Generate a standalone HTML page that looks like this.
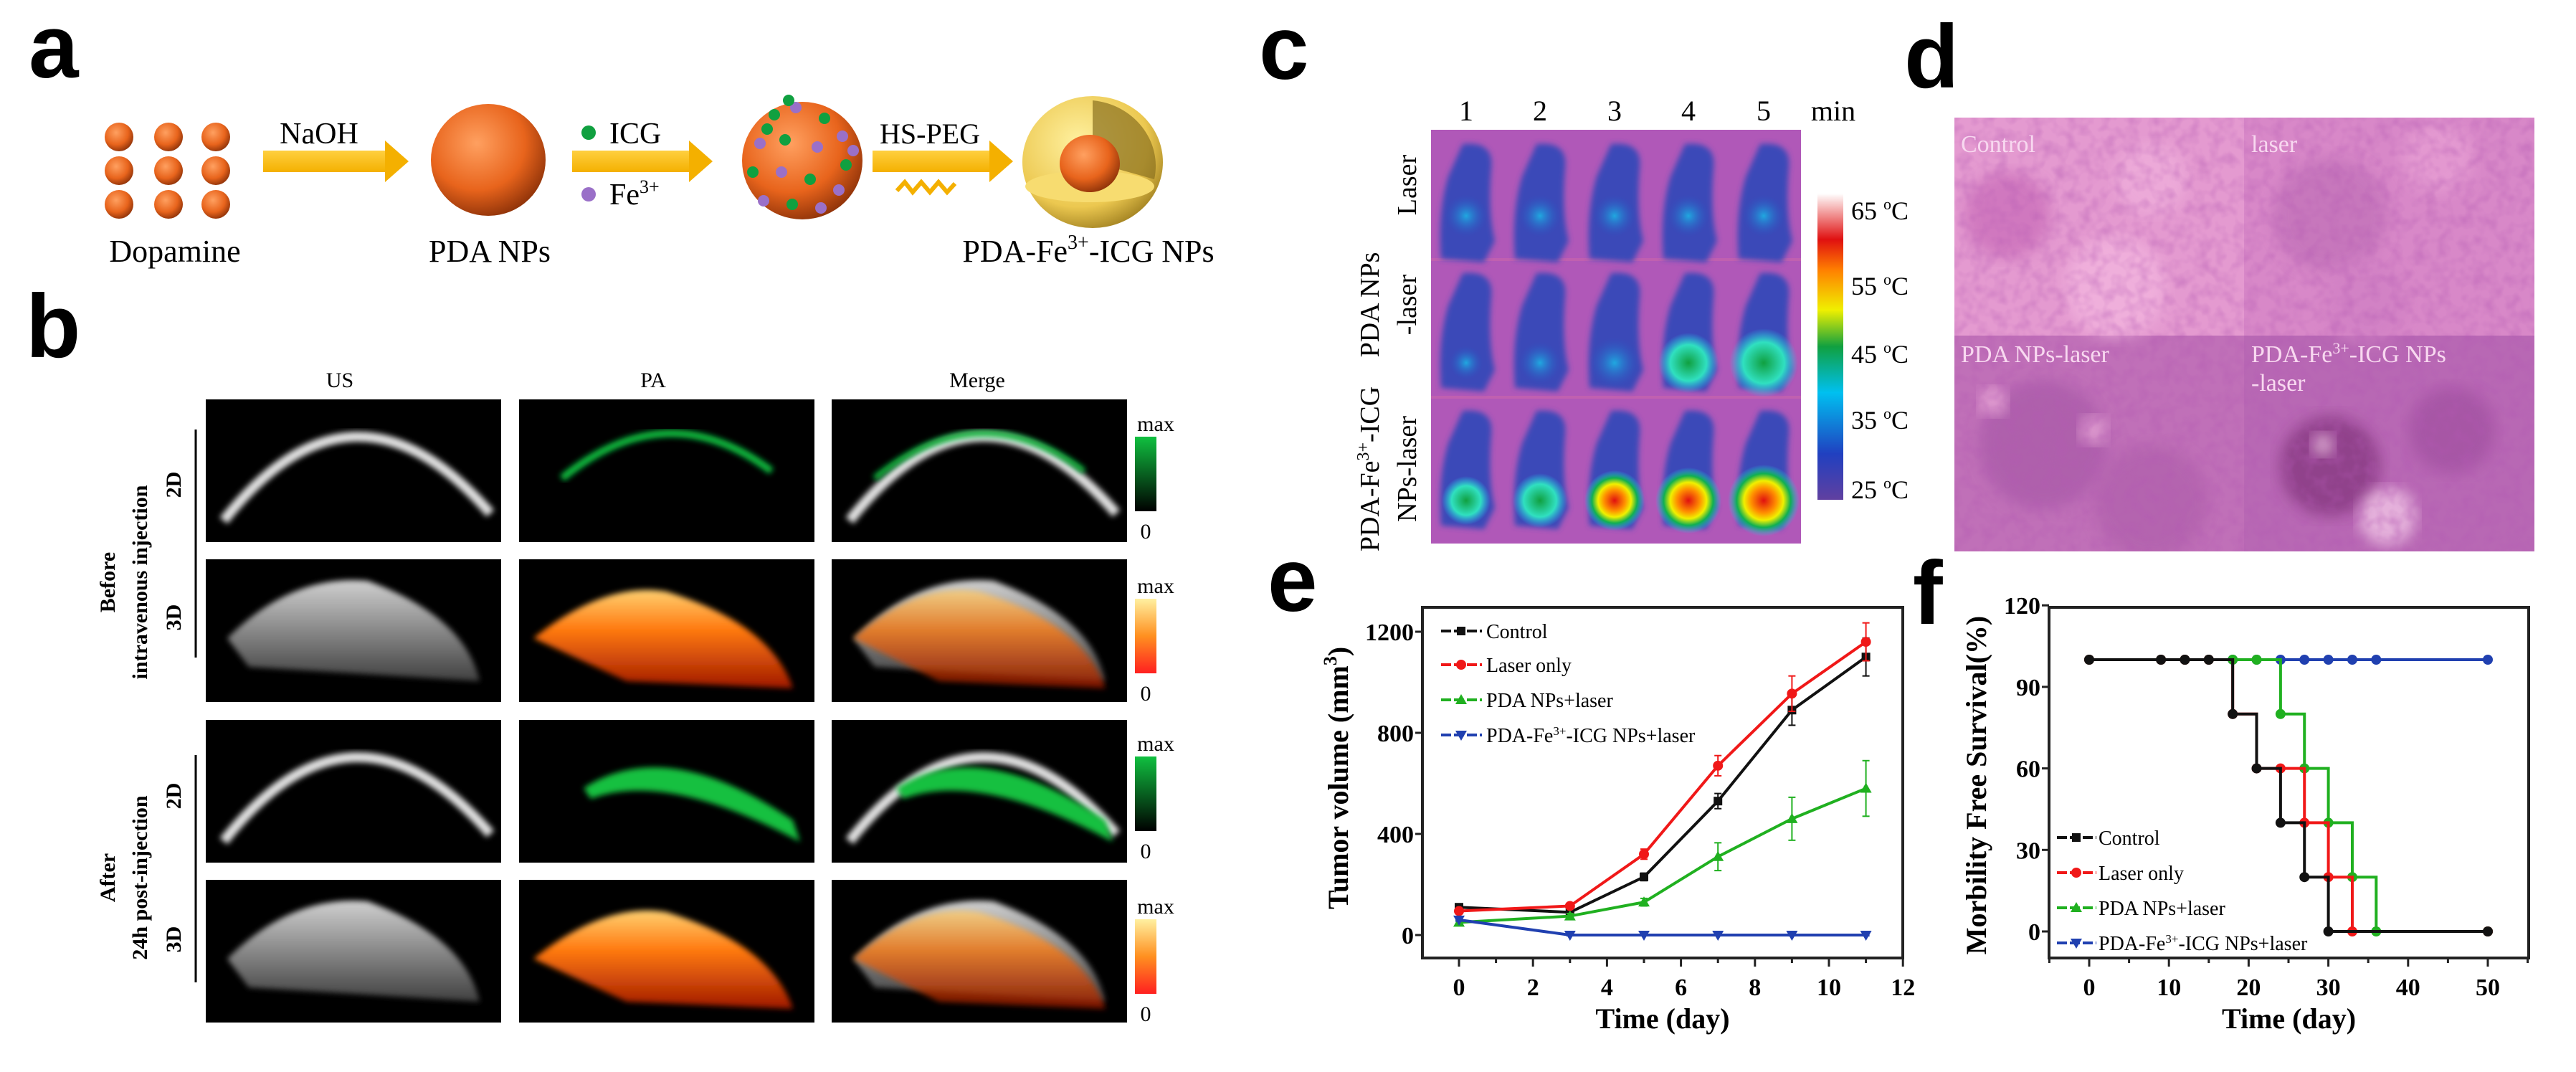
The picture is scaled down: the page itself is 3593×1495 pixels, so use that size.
<!DOCTYPE html>
<html><head><meta charset="utf-8"><style>
html,body{margin:0;padding:0;background:#fff;}
svg{display:block;}
.ser{font-family:"Liberation Serif",serif;}
.lab{font-family:"Liberation Sans",sans-serif;font-weight:bold;font-size:125px;}
</style></head><body>
<svg id="fig" width="3593" height="1495" viewBox="0 0 3593 1495" xmlns="http://www.w3.org/2000/svg">
<defs>
<radialGradient id="orb" cx="0.4" cy="0.35" r="0.7"><stop offset="0" stop-color="#ffa060"/><stop offset="0.6" stop-color="#e8641c"/><stop offset="1" stop-color="#8a3008"/></radialGradient>
<radialGradient id="shell" cx="0.4" cy="0.35" r="0.7"><stop offset="0" stop-color="#fff1a0"/><stop offset="0.7" stop-color="#ecc850"/><stop offset="1" stop-color="#a08020"/></radialGradient>
<linearGradient id="arrowg" x1="0" y1="0" x2="0" y2="1"><stop offset="0" stop-color="#ffd040"/><stop offset="1" stop-color="#f4b000"/></linearGradient>
<linearGradient id="cbar" x1="0" y1="1" x2="0" y2="0"><stop offset="0" stop-color="#6040a0"/><stop offset="0.15" stop-color="#2040c0"/><stop offset="0.35" stop-color="#00c0f0"/><stop offset="0.5" stop-color="#10a040"/><stop offset="0.62" stop-color="#f0f000"/><stop offset="0.75" stop-color="#ff8000"/><stop offset="0.85" stop-color="#e01010"/><stop offset="1" stop-color="#ffffff"/></linearGradient>
<linearGradient id="gbar" x1="0" y1="1" x2="0" y2="0"><stop offset="0" stop-color="#000"/><stop offset="1" stop-color="#10c040"/></linearGradient>
<linearGradient id="obar" x1="0" y1="1" x2="0" y2="0"><stop offset="0" stop-color="#ff2020"/><stop offset="0.5" stop-color="#ff9020"/><stop offset="1" stop-color="#fff0a0"/></linearGradient>
<radialGradient id="hot" cx="0.5" cy="0.5" r="0.5"><stop offset="0" stop-color="#e01010"/><stop offset="0.35" stop-color="#ff9000"/><stop offset="0.55" stop-color="#f0f000"/><stop offset="0.75" stop-color="#10b050"/><stop offset="1" stop-color="#20c8f0" stop-opacity="0"/></radialGradient>
<radialGradient id="warm" cx="0.5" cy="0.5" r="0.5"><stop offset="0" stop-color="#10a040"/><stop offset="0.6" stop-color="#30e0c0"/><stop offset="1" stop-color="#20c8f0" stop-opacity="0"/></radialGradient>
<radialGradient id="cool" cx="0.5" cy="0.5" r="0.5"><stop offset="0" stop-color="#20a8e0"/><stop offset="1" stop-color="#2a50c0" stop-opacity="0"/></radialGradient>
<linearGradient id="orange3d" x1="0" y1="0" x2="0" y2="1"><stop offset="0" stop-color="#ffd070"/><stop offset="0.4" stop-color="#ff7a10"/><stop offset="1" stop-color="#a01800"/></linearGradient>
<linearGradient id="grey3d" x1="0" y1="0" x2="0" y2="1"><stop offset="0" stop-color="#d0d0d0"/><stop offset="1" stop-color="#404040"/></linearGradient>
<filter id="bl" x="-10%" y="-10%" width="120%" height="120%"><feGaussianBlur stdDeviation="4"/></filter>
<filter id="bl2"><feGaussianBlur stdDeviation="10"/></filter>
<filter id="noise" x="0" y="0" width="100%" height="100%"><feTurbulence type="fractalNoise" baseFrequency="0.06" numOctaves="2" seed="3"/><feColorMatrix type="matrix" values="0 0 0 0 0.45  0 0 0 0 0.1  0 0 0 0 0.45  0 0 0 1.4 -0.55"/></filter>
<clipPath id="dclip"><rect x="2726" y="164" width="809" height="605"/></clipPath>
</defs>

<text class="lab" x="40" y="108">a</text>
<text class="lab" x="36" y="498">b</text>
<text class="lab" x="1756" y="110">c</text>
<text class="lab" x="2656" y="122">d</text>
<text class="lab" x="1768" y="852">e</text>
<text class="lab" x="2668" y="870">f</text>

<g id="panelA">
 <g id="dots"></g>
 <g><rect x="367" y="210" width="170" height="30" fill="url(#arrowg)"/><polygon points="537,196 570,225 537,254" fill="#f4b000"/></g>
 <text class="ser" x="445" y="200" font-size="42" text-anchor="middle">NaOH</text>
 <ellipse cx="681" cy="223" rx="80" ry="78" fill="url(#orb)"/>
 <g><rect x="798" y="210" width="163" height="30" fill="url(#arrowg)"/><polygon points="961,196 994,225 961,254" fill="#f4b000"/></g>
 <circle cx="821" cy="185" r="10" fill="#10a040"/><text class="ser" x="850" y="200" font-size="42">ICG</text>
 <circle cx="821" cy="271" r="10" fill="#9a70c8"/><text class="ser" x="850" y="285" font-size="42">Fe<tspan font-size="26" dy="-16">3+</tspan></text>
 <ellipse cx="1119" cy="224" rx="84" ry="82" fill="url(#orb)"/>
 <g id="surfdots"></g>
 <g><rect x="1217" y="210" width="163" height="30" fill="url(#arrowg)"/><polygon points="1380,196 1413,225 1380,254" fill="#f4b000"/></g>
 <text class="ser" x="1297" y="200" font-size="40" text-anchor="middle">HS-PEG</text>
 <polyline points="1251,266 1262,254 1273,268 1285,254 1297,268 1309,254 1321,268 1332,256" fill="none" stroke="#f4b000" stroke-width="6"/>
 <ellipse cx="1524" cy="226" rx="98" ry="92" fill="url(#shell)"/>
 <path d="M1524,140 L1524,226 L1610,250 A98,92 0 0 0 1524,140 Z" fill="#8a7020" opacity="0.7"/>
 <ellipse cx="1520" cy="260" rx="90" ry="22" fill="#f7dc70"/>
 <ellipse cx="1520" cy="228" rx="42" ry="40" fill="url(#orb)"/>
 <text class="ser" x="244" y="365" font-size="44" text-anchor="middle">Dopamine</text>
 <text class="ser" x="683" y="365" font-size="44" text-anchor="middle">PDA NPs</text>
 <text class="ser" x="1518" y="365" font-size="44" text-anchor="middle">PDA-Fe<tspan font-size="28" dy="-18">3+</tspan><tspan dy="18">-ICG NPs</tspan></text>
</g>

<g id="panelB">
 <text class="ser" x="474" y="540" font-size="30" text-anchor="middle">US</text>
 <text class="ser" x="911" y="540" font-size="30" text-anchor="middle">PA</text>
 <text class="ser" x="1363" y="540" font-size="30" text-anchor="middle">Merge</text>
 <g id="bimgs"></g>
 <line x1="273" y1="599" x2="273" y2="917" stroke="#000" stroke-width="3"/>
 <line x1="273" y1="1053" x2="273" y2="1370" stroke="#000" stroke-width="3"/>
 <text class="ser" font-weight="bold" font-size="30" text-anchor="middle" transform="translate(160,812) rotate(-90)">Before</text>
 <text class="ser" font-weight="bold" font-size="30" text-anchor="middle" transform="translate(205,812) rotate(-90)">intravenous injection</text>
 <text class="ser" font-weight="bold" font-size="30" text-anchor="middle" transform="translate(252,676) rotate(-90)">2D</text>
 <text class="ser" font-weight="bold" font-size="30" text-anchor="middle" transform="translate(252,861) rotate(-90)">3D</text>
 <text class="ser" font-weight="bold" font-size="30" text-anchor="middle" transform="translate(160,1224) rotate(-90)">After</text>
 <text class="ser" font-weight="bold" font-size="30" text-anchor="middle" transform="translate(205,1224) rotate(-90)">24h post-injection</text>
 <text class="ser" font-weight="bold" font-size="30" text-anchor="middle" transform="translate(252,1110) rotate(-90)">2D</text>
 <text class="ser" font-weight="bold" font-size="30" text-anchor="middle" transform="translate(252,1310) rotate(-90)">3D</text>
 <g id="bbars"></g>
</g>

<g id="panelC">
 <rect x="1996" y="181" width="516" height="577" fill="#b058b8"/>
 <line x1="1996" y1="362" x2="2512" y2="362" stroke="#c060b0" stroke-width="4"/>
 <line x1="1996" y1="554" x2="2512" y2="554" stroke="#c060b0" stroke-width="4"/>
 <g id="mice"></g>
 <g id="cnums"></g>
 <text class="ser" x="2557" y="168" font-size="40" text-anchor="middle">min</text>
 <rect x="2535" y="270" width="36" height="427" fill="url(#cbar)"/>
 <g id="ctemps"></g>
 <text class="ser" font-size="38" text-anchor="middle" transform="translate(1975,258) rotate(-90)">Laser</text>
 <text class="ser" font-size="38" text-anchor="middle" transform="translate(1923,425) rotate(-90)">PDA NPs</text>
 <text class="ser" font-size="38" text-anchor="middle" transform="translate(1975,425) rotate(-90)">-laser</text>
 <text class="ser" font-size="38" text-anchor="middle" transform="translate(1923,654) rotate(-90)">PDA-Fe<tspan font-size="24" dy="-14">3+</tspan><tspan dy="14">-ICG</tspan></text>
 <text class="ser" font-size="38" text-anchor="middle" transform="translate(1975,654) rotate(-90)">NPs-laser</text>
</g>

<g id="panelD">
 <g clip-path="url(#dclip)">
 <rect x="2726" y="164" width="404" height="304" fill="#e49ad0"/>
 <rect x="3130" y="164" width="405" height="304" fill="#d888c8"/>
 <rect x="2726" y="468" width="404" height="301" fill="#c070b8"/>
 <rect x="3130" y="468" width="405" height="301" fill="#b868b4"/>
 <g id="histo"></g>
 <rect x="2726" y="164" width="809" height="605" filter="url(#noise)" opacity="0.55"/>
 </g>
 <text class="ser" x="2735" y="212" font-size="34" fill="#f8d8f0">Control</text>
 <text class="ser" x="3140" y="212" font-size="34" fill="#f8d8f0">laser</text>
 <text class="ser" x="2735" y="505" font-size="34" fill="#f8d8f0">PDA NPs-laser</text>
 <text class="ser" x="3140" y="505" font-size="34" fill="#f8d8f0">PDA-Fe<tspan font-size="22" dy="-12">3+</tspan><tspan dy="12">-ICG NPs</tspan></text>
 <text class="ser" x="3140" y="545" font-size="34" fill="#f8d8f0">-laser</text>
</g>

<g id="chartE"></g>
<g id="chartF"></g>
</svg>
<script>
const NS="http://www.w3.org/2000/svg";
function mk(p,tag,at){const e=document.createElementNS(NS,tag);for(const k in at)e.setAttribute(k,at[k]);p.appendChild(e);return e;}
function $(id){return document.getElementById(id);}

// ---- Chart E data ----
const eDays=[0,3,5,7,9,11];
const eControl=[110,90,230,530,890,1100];
const eLaser=[95,115,320,670,955,1160];
const ePDA=[50,75,130,310,460,580];
const eFe=[60,0,0,0,0,0];
const eControlErr=[10,10,15,30,60,75];
const eLaserErr=[10,10,20,40,70,75];
const ePDAErr=[10,10,15,55,85,110];
const eFeErr=[5,3,3,3,3,3];
const eYTicks=[0,400,800,1200];
const eXTicks=[0,2,4,6,8,10,12];
const eNames=["Control","Laser only","PDA NPs+laser","PDA-Fe3+-ICG NPs+laser"];

// ---- Chart F data ----
const fCtrlT=[0,9,12,15,18,21,24,27,30,50];
const fCtrlV=[100,100,100,100,80,60,40,20,0,0];
const fLaserT=[0,9,12,15,18,21,24,27,30,33,50];
const fLaserV=[100,100,100,100,80,60,60,40,20,0,0];
const fPDAT=[0,9,12,15,18,21,24,27,30,33,36,50];
const fPDAV=[100,100,100,100,100,100,80,60,40,20,0,0];
const fFeT=[0,9,12,15,18,21,24,27,30,33,36,50];
const fFeV=[100,100,100,100,100,100,100,100,100,100,100,100];
const fYTicks=[0,30,60,90,120];
const fXTicks=[0,10,20,30,40,50];

(function(){
 const g=$('dots');
 [166,235,301].forEach(x=>[191,238,285].forEach(y=>{mk(g,'circle',{cx:x,cy:y,r:20,fill:'url(#orb)'});}));
 const s=$('surfdots');
 const pts=[[1080,160,'g'],[1110,150,'p'],[1150,165,'g'],[1175,190,'p'],[1060,200,'p'],[1095,195,'g'],[1140,205,'p'],[1180,230,'g'],[1050,240,'g'],[1090,240,'p'],[1130,250,'g'],[1170,265,'p'],[1065,280,'p'],[1105,285,'g'],[1145,290,'p'],[1100,140,'g'],[1190,210,'p'],[1070,180,'g']];
 pts.forEach(p=>mk(s,'circle',{cx:p[0],cy:p[1],r:8,fill:p[2]=='g'?'#10a040':'#9a70c8'}));
})();

(function(){
 const g=$('bimgs');
 const cols=[287,724,1160], rows=[557,780,1004,1227], W=412, H=199;
 rows.forEach((ry,ri)=>cols.forEach((cx,ci)=>{
  mk(g,'rect',{x:cx,y:ry,width:W,height:H,fill:'#000'});
  const mx=cx+W/2;
  if(ri%2==0){
   if(ci!=1) mk(g,'path',{d:`M${cx+25},${ry+H-30} Q${mx},${ry-60} ${cx+W-15},${ry+H-40}`,fill:'none',stroke:'#e0e0e0','stroke-width':14,filter:'url(#bl)'});
   if(ci>0){
     if(ri==0) mk(g,'path',{d:`M${cx+60},${ry+110} Q${mx},${ry-10} ${cx+W-60},${ry+100}`,fill:'none',stroke:'#10c040','stroke-width':ci==1?10:8,filter:'url(#bl)'});
     else { mk(g,'path',{d:`M${cx+90},${ry+95} Q${mx},${ry+20} ${cx+W-30},${ry+140} L${cx+W-20},${ry+170} Q${mx},${ry+70} ${cx+100},${ry+110} Z`,fill:'#18c040',filter:'url(#bl)'});}
   }
  } else {
   if(ci!=1) mk(g,'path',{d:`M${cx+30},${ry+110} Q${cx+120},${ry+20} ${mx+20},${ry+30} Q${cx+W-50},${ry+80} ${cx+W-30},${ry+170} L${cx+60},${ry+150} Z`,fill:'url(#grey3d)',filter:'url(#bl)'});
   if(ci>0) mk(g,'path',{d:`M${cx+(ci==1?20:30)},${ry+110} Q${cx+120},${ry+30} ${mx},${ry+45} Q${cx+W-60},${ry+90} ${cx+W-30},${ry+180} L${cx+150},${ry+170} Z`,fill:'url(#orange3d)',opacity:ci==1?1:0.75,filter:'url(#bl)'});
  }
 }));
 const b=$('bbars');
 [[609,'url(#gbar)'],[835,'url(#obar)'],[1055,'url(#gbar)'],[1282,'url(#obar)']].forEach((r,i)=>{
  mk(b,'rect',{x:1583,y:r[0],width:30,height:104,fill:r[1]});
  const t1=mk(b,'text',{x:1612,y:r[0]-8,'font-size':30,'text-anchor':'middle',class:'ser'});t1.textContent='max';
  const t2=mk(b,'text',{x:1598,y:r[0]+142,'font-size':30,'text-anchor':'middle',class:'ser'});t2.textContent='0';
 });
})();

(function(){
 const g=$('mice');
 const xs=[2045,2148,2252,2355,2460], rows=[[186,'cool'],[366,'warm'],[558,'hot']];
 rows.forEach((r,ri)=>xs.forEach((x,i)=>{
  const y=r[0];
  mk(g,'path',{d:`M${x-5},${y+15} Q${x+40},${y+10} ${x+35},${y+50} Q${x+30},${y+110} ${x+40},${y+150} L${x+25},${y+180} L${x-35},${y+175} Q${x-40},${y+110} ${x-25},${y+60} Z`,fill:'#3a48b8',filter:'url(#bl)'});
  let sz=ri==0?30:(ri==1?24+i*6:34+i*4);
  let fill=ri==0?'url(#cool)':(ri==1?(i>=3?'url(#warm)':'url(#cool)'):(i>=2?'url(#hot)':'url(#warm)'));
  mk(g,'circle',{cx:x,cy:y+(ri==0?115:140),r:sz,fill:fill});
 }));
 const n=$('cnums');
 xs.forEach((x,i)=>{const t=mk(n,'text',{x:x,y:168,'font-size':40,'text-anchor':'middle',class:'ser'});t.textContent=String(i+1);});
 const ct=$('ctemps');
 [[65,306],[55,411],[45,506],[35,598],[25,695]].forEach(v=>{const t=mk(ct,'text',{x:2582,y:v[1],'font-size':36,class:'ser'});t.innerHTML=v[0]+' <tspan font-size="22" dy="-14">o</tspan><tspan dy="14">C</tspan>';});
})();

(function(){
 const g=$('histo');
 const spots=[[2800,300,60,'#c86ab8'],[3000,250,50,'#f0b0dc'],[2950,400,70,'#f4b8e0'],[3250,300,80,'#c070b8'],[3400,220,50,'#e8a0d4'],[3300,420,60,'#d080c4'],[2850,620,90,'#a85aa8'],[3000,700,80,'#b060ac'],[3250,650,70,'#80307a'],[3420,600,60,'#a050a0'],[3330,720,40,'#f8d0ec'],[2780,560,20,'#f0b0dc'],[2920,600,20,'#f0b0dc'],[3240,620,16,'#f4c8e8']];
 spots.forEach(s=>mk(g,'circle',{cx:s[0],cy:s[1],r:s[2],fill:s[3],opacity:0.7,filter:'url(#bl2)'}));
})();

function axisText(g,x,y,s,sz,anchor,bold){const t=mk(g,'text',{x:x,y:y,'font-size':sz,'text-anchor':anchor,class:'ser','font-weight':bold?'bold':'normal'});t.textContent=s;return t;}
function marker(g,type,x,y,c){
 if(type=='sq') return mk(g,'rect',{x:x-6,y:y-6,width:12,height:12,fill:c});
 if(type=='ci') return mk(g,'circle',{cx:x,cy:y,r:7,fill:c});
 if(type=='up') return mk(g,'polygon',{points:`${x},${y-8} ${x-8},${y+6} ${x+8},${y+6}`,fill:c});
 return mk(g,'polygon',{points:`${x},${y+8} ${x-8},${y-6} ${x+8},${y-6}`,fill:c});
}

(function(){
 const g=$('chartE');
 const L=1984,R=2654,T=847,B=1336;
 const xE=d=>2035+d*51.6, yE=v=>1304-v*0.3525;
 mk(g,'rect',{x:L,y:T,width:R-L,height:B-T,fill:'none',stroke:'#222','stroke-width':4});
 eYTicks.forEach(v=>{mk(g,'line',{x1:L-10,y1:yE(v),x2:L,y2:yE(v),stroke:'#222','stroke-width':3});axisText(g,L-12,yE(v)+12,String(v),34,'end',true);});
 for(let d=0;d<=12;d++){mk(g,'line',{x1:xE(d),y1:B,x2:xE(d),y2:B+(d%2==0?12:7),stroke:'#222','stroke-width':3});}
 eXTicks.forEach(d=>axisText(g,xE(d),1388,String(d),34,'middle',true));
 axisText(g,(L+R)/2,1434,'Time (day)',40,'middle',true);
 const yt=mk(g,'text',{transform:'translate(1880,1085) rotate(-90)','font-size':40,'text-anchor':'middle',class:'ser','font-weight':'bold'});
 yt.innerHTML='Tumor volume (mm<tspan font-size="26" dy="-16">3</tspan><tspan dy="16">)</tspan>';
 const ser=[[eControl,eControlErr,'#111','sq'],[eLaser,eLaserErr,'#f01818','ci'],[ePDA,ePDAErr,'#20b020','up'],[eFe,eFeErr,'#2040b0','dn']];
 ser.forEach((s,si)=>{
  const sg=mk(g,'g',{});
  
  
  mk(sg,'polyline',{points:eDays.map((d,i)=>xE(d)+','+yE(s[0][i])).join(' '),fill:'none',stroke:s[2],'stroke-width':4});
  eDays.forEach((d,i)=>{
   const x=xE(d),y1=yE(s[0][i]+s[1][i]),y2=yE(s[0][i]-s[1][i]);
   mk(sg,'line',{x1:x,y1:y1,x2:x,y2:y2,stroke:s[2],'stroke-width':2});
   mk(sg,'line',{x1:x-5,y1:y1,x2:x+5,y2:y1,stroke:s[2],'stroke-width':2});
   mk(sg,'line',{x1:x-5,y1:y2,x2:x+5,y2:y2,stroke:s[2],'stroke-width':2});
   const m=marker(sg,s[3],x,yE(s[0][i]),s[2]);
   
   
  });
 });
 const ly=[880,927,976,1025];
 ser.forEach((s,i)=>{
  const lg=mk(g,'g',{});
  
  
  mk(lg,'line',{x1:2010,y1:ly[i],x2:2067,y2:ly[i],stroke:s[2],'stroke-width':4,'stroke-dasharray':'14 4'});
  marker(lg,s[3],2038,ly[i],s[2]);
  const t=axisText(lg,2073,ly[i]+10,'',28,'start',false);
  if(i==3) t.innerHTML='PDA-Fe<tspan font-size="17" dy="-10">3+</tspan><tspan dy="10">-ICG NPs+laser</tspan>'; else t.textContent=eNames[i];
 });
})();

(function(){
 const g=$('chartF');
 const L=2858,R=3527,T=847,B=1336;
 const xF=d=>2914+d*11.12, yF=v=>1299-v*3.79;
 mk(g,'rect',{x:L,y:T,width:R-L,height:B-T,fill:'none',stroke:'#222','stroke-width':4});
 fYTicks.forEach(v=>{mk(g,'line',{x1:L-10,y1:yF(v),x2:L,y2:yF(v),stroke:'#222','stroke-width':3});axisText(g,L-12,yF(v)+12,String(v),34,'end',true);});
 for(let d=-5;d<=55;d+=5){if(xF(d)<L||xF(d)>R)continue;mk(g,'line',{x1:xF(d),y1:B,x2:xF(d),y2:B+(d%10==0?12:7),stroke:'#222','stroke-width':3});}
 fXTicks.forEach(d=>axisText(g,xF(d),1388,String(d),34,'middle',true));
 axisText(g,(L+R)/2,1434,'Time (day)',40,'middle',true);
 const yt=mk(g,'text',{transform:'translate(2770,1095) rotate(-90)','font-size':40,'text-anchor':'middle',class:'ser','font-weight':'bold'});
 yt.textContent='Morbility Free Survival(%)';
 const ser=[[fFeT,fFeV,'#2040b0','dn',3],[fPDAT,fPDAV,'#20b020','up',2],[fLaserT,fLaserV,'#f01818','ci',1],[fCtrlT,fCtrlV,'#111','sq',0]];
 ser.forEach(s=>{
  const sg=mk(g,'g',{});
  
  
  let d='M'+xF(s[0][0])+','+yF(s[1][0]);
  for(let i=1;i<s[0].length;i++){d+=' L'+xF(s[0][i])+','+yF(s[1][i-1])+' L'+xF(s[0][i])+','+yF(s[1][i]);}
  mk(sg,'path',{d:d,fill:'none',stroke:s[2],'stroke-width':4});
  s[0].forEach((t,i)=>{const m=mk(sg,'circle',{cx:xF(t),cy:yF(s[1][i]),r:7,fill:s[2]});
   
   });
 });
 const ly=[1168,1217,1266,1315];
 const ls=[['#111','sq'],['#f01818','ci'],['#20b020','up'],['#2040b0','dn']];
 ls.forEach((s,i)=>{
  const lg=mk(g,'g',{});
  
  
  mk(lg,'line',{x1:2869,y1:ly[i],x2:2924,y2:ly[i],stroke:s[0],'stroke-width':4,'stroke-dasharray':'14 4'});
  marker(lg,s[1],2896,ly[i],s[0]);
  const t=axisText(lg,2927,ly[i]+10,'',28,'start',false);
  if(i==3) t.innerHTML='PDA-Fe<tspan font-size="17" dy="-10">3+</tspan><tspan dy="10">-ICG NPs+laser</tspan>'; else t.textContent=eNames[i];
 });
})();
</script>
</body></html>
